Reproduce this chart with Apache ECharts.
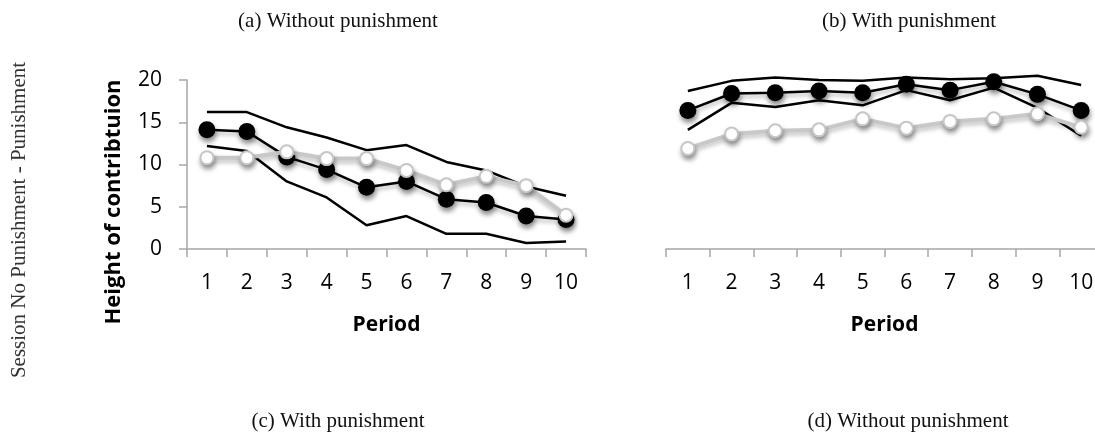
<!DOCTYPE html>
<html><head><meta charset="utf-8">
<script src="https://cdn.jsdelivr.net/npm/echarts@6/dist/echarts.min.js"></script>
<style>html,body{margin:0;padding:0;background:#fff;overflow:hidden}#c{width:1115px;height:432px}</style>
</head><body><div id="c"></div><script>
const periods = ['1','2','3','4','5','6','7','8','9','10'];
const yTicks = [0, 5, 10, 15, 20];
// (a) Without punishment
const aMean  = [14.1, 13.9, 10.9, 9.4, 7.3, 8.0, 5.9, 5.5, 3.9, 3.5];
const aOther = [10.8, 10.8, 11.5, 10.7, 10.7, 9.3, 7.6, 8.6, 7.5, 4.0];
const aUpper = [16.2, 16.2, 14.4, 13.2, 11.7, 12.3, 10.3, 9.3, 7.4, 6.3];
const aLower = [12.2, 11.6, 8.0, 6.1, 2.8, 3.9, 1.8, 1.8, 0.7, 0.9];
// (b) With punishment
const bMean  = [16.4, 18.4, 18.5, 18.7, 18.5, 19.5, 18.8, 19.8, 18.3, 16.4];
const bOther = [11.9, 13.6, 14.0, 14.1, 15.4, 14.3, 15.1, 15.4, 16.0, 14.4];
const bUpper = [18.7, 19.9, 20.3, 20.0, 19.9, 20.3, 20.1, 20.2, 20.5, 19.4];
const bLower = [14.1, 17.3, 16.8, 17.6, 17.0, 18.8, 17.6, 19.1, 16.7, 13.4];

const axisGrey = '#a6a6a6';
const sans = 'Open Sans';

function band(data, idx) {
  return { type:'line', data, xAxisIndex:idx, yAxisIndex:idx, symbol:'none', clip:false,
    lineStyle:{ color:'#000', width:2.5 }, z:2 };
}
function mean(data, idx) {
  return { type:'line', data, xAxisIndex:idx, yAxisIndex:idx, symbol:'circle', symbolSize:17, clip:false,
    lineStyle:{ color:'#000', width:2.5, shadowColor:'rgba(0,0,0,0.3)', shadowBlur:4, shadowOffsetY:3 },
    itemStyle:{ color:'#000', shadowColor:'rgba(0,0,0,0.45)', shadowBlur:5, shadowOffsetX:1, shadowOffsetY:4 }, z:3 };
}
function other(data, idx) {
  return { type:'line', data, xAxisIndex:idx, yAxisIndex:idx, symbol:'circle', symbolSize:15, clip:false,
    lineStyle:{ color:'#c8c8c8', width:4, shadowColor:'rgba(0,0,0,0.25)', shadowBlur:4, shadowOffsetY:3 },
    itemStyle:{ color:'#c6c6c6', shadowColor:'rgba(0,0,0,0.45)', shadowBlur:5, shadowOffsetX:1, shadowOffsetY:4 }, z:4 };
}
function otherFill(data, idx) {
  return { type:'scatter', data, xAxisIndex:idx, yAxisIndex:idx, symbol:'circle', symbolSize:11, clip:false,
    itemStyle:{ color:'#fff', opacity:1 }, z:5, silent:true };
}
function xAx(idx) {
  return { type:'category', gridIndex:idx, data:periods, boundaryGap:true,
    axisLine:{ lineStyle:{ color:axisGrey, width:1.5 } },
    axisTick:{ show:true, length:8, lineStyle:{ color:axisGrey, width:1.5 } },
    axisLabel:{ color:'#000', fontSize:21, fontFamily:sans, margin:24 },
    name:'Period', nameLocation:'middle', nameGap:66,
    nameTextStyle:{ color:'#000', fontSize:21, fontWeight:'bold', fontFamily:sans } };
}

const chart = echarts.init(document.getElementById('c'), null, { renderer:'canvas' });
chart.setOption({
  animation:false,
  backgroundColor:'#fff',
  grid:[
    { left:187, top:80, width:399, height:169 },
    { left:666, top:80, width:437, height:169 }
  ],
  xAxis:[ xAx(0), xAx(1) ],
  yAxis:[
    { type:'value', gridIndex:0, min:yTicks[0], max:yTicks[yTicks.length-1], interval:5,
      axisLine:{ show:true, lineStyle:{ color:axisGrey, width:1.5 } },
      axisTick:{ show:true, length:8, lineStyle:{ color:axisGrey, width:1.5 } },
      splitLine:{ show:false },
      axisLabel:{ color:'#000', fontSize:21, fontFamily:sans, margin:25 } },
    { type:'value', gridIndex:1, min:yTicks[0], max:yTicks[yTicks.length-1], interval:5, show:false }
  ],
  graphic:[
    { type:'text', x:338, y:21, style:{ text:'(a) Without punishment', font:'21px "Liberation Serif"', fill:'#111', textAlign:'center', textVerticalAlign:'middle' } },
    { type:'text', x:909, y:21, style:{ text:'(b) With punishment', font:'21px "Liberation Serif"', fill:'#111', textAlign:'center', textVerticalAlign:'middle' } },
    { type:'text', x:338, y:421, style:{ text:'(c) With punishment', font:'21px "Liberation Serif"', fill:'#111', textAlign:'center', textVerticalAlign:'middle' } },
    { type:'text', x:908, y:421, style:{ text:'(d) Without punishment', font:'21px "Liberation Serif"', fill:'#111', textAlign:'center', textVerticalAlign:'middle' } },
    { type:'text', x:19, y:220, rotation:Math.PI/2, style:{ text:'Session No Punishment - Punishment', font:'21px "Liberation Serif"', fill:'#333', textAlign:'center', textVerticalAlign:'middle' } },
    { type:'text', x:114, y:202, rotation:Math.PI/2, style:{ text:'Height of contribtuion', font:'bold 22px "Open Sans"', fill:'#000', textAlign:'center', textVerticalAlign:'middle' } }
  ],
  series:[
    band(aUpper,0), band(aLower,0), mean(aMean,0), other(aOther,0), otherFill(aOther,0),
    band(bUpper,1), band(bLower,1), mean(bMean,1), other(bOther,1), otherFill(bOther,1)
  ]
});
</script></body></html>
